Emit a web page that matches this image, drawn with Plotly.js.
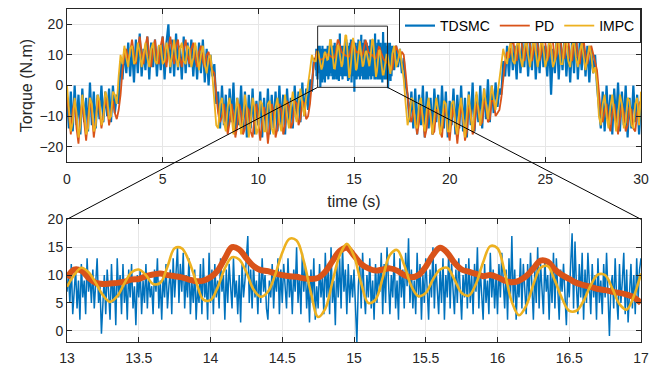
<!DOCTYPE html>
<html>
<head>
<meta charset="utf-8">
<script src="https://cdn.plot.ly/plotly-3.0.1.min.js"></script>
<style>html,body{margin:0;padding:0;background:#fff;}#chart{width:650px;height:370px;}</style>
</head>
<body>
<div id="chart"></div>
<script>
// ---- Data ----
// Top panel, part 1: t = 0.0 .. 12.9 s, step 0.1 s
const tdsmcTop1 = [-4,-14,-2,-15,0,-13,-3,-16,-1,-12,-4,-15,1,-13,-2,-14,-3,-11,0,-12,-2,-10,-1,-12,0,-9,
 -3,-6,8,2,12,
 4,14,3,13,1,15,4,17,3,12,5,16,2,14,6,15,3,13,5,16,2,14,20,4,15,3,17,5,13,2,16,4,14,6,15,3,13,2,14,4,15,1,12,0,10,3,
 7,-6,-2,-14,
 0,-13,-3,-15,-1,-12,1,-16,-4,-13,0,-15,-2,-17,-3,-14,-1,-16,-5,-13,-2,-17,-4,-15,-1,-16,-3,-14,-2,-15,0,-13,-3,-16,-1,-12,-4,-14,0,-11,-2,-12,1,-10,-1,-8,
 2,-2,9];
const pdTop1 = [-3,-9,-16,-8,-5,-14,-19,-10,-5,-12,-18,-11,-4,-9,-17,-12,-4,-8,-14,-10,-4,-7,-13,-9,-5,-9,
 -11,-8,-3,5,10,
 12,8,11,15,10,7,12,16,11,7,13,16,10,6,12,15,9,7,13,16,10,6,12,16,11,7,13,15,9,6,12,15,10,7,12,14,9,6,11,13,8,6,10,11,7,5,
 4,-2,-9,-12,
 -10,-6,-11,-16,-12,-6,-10,-17,-13,-6,-9,-16,-14,-7,-8,-15,-17,-10,-6,-13,-18,-12,-7,-11,-19,-13,-6,-9,-17,-14,-6,-8,-16,-13,-5,-7,-14,-12,-5,-6,-13,-11,-5,-6,-11,-10,
 -6,1,7];
const impcTop1 = [0,-8,-15,-12,-4,-9,-17,-13,-3,-8,-16,-14,-4,-6,-15,-13,-3,-5,-13,-11,-2,-4,-11,-10,-2,-3,
 -6,3,10,7,13,
 9,6,12,13,7,8,14,11,6,10,14,9,6,12,14,8,7,13,13,7,8,14,11,6,11,15,9,6,12,14,8,7,13,12,6,9,14,10,5,10,13,7,4,9,10,3,
 -5,-13,-14,-6,
 -4,-12,-15,-7,-4,-11,-16,-9,-4,-10,-16,-11,-3,-8,-17,-12,-4,-7,-16,-14,-5,-6,-15,-15,-6,-5,-14,-16,-7,-4,-12,-15,-8,-3,-10,-14,-7,-2,-8,-12,-6,-1,-6,-10,-4,0,
 5,10,8];

// Zoom window: t = 13.00 .. 17.00 s
// TDSMC, step 0.01 s
const tdsmcZoom = [
 7,10,5,12,3,8,11,4,9,2,
 12,6,9,3,13,7,10,5,11,4,
 9,13,5,8,-0.5,6,10,3,11,7,
 2,12,5,9,1,13,6,10,3,12,
 5,9,2,11,6,12,4,8,1,10,
 6,11,3,9,5,12,4,10,6,8,
 3,11,7,13,4,9,2,10,6,12,
 4,8,11,3,13,6,10,15,5,12,
 7,14,4,10,6,13,3,9,5,11,
 2,8,5,12,3,13,6,9,2,14,
 5,11,3,12,6,9,4,13,7,10,
 2,11,5,12,8,4,13,6,9,3,
 10,1.5,12,6,9,13,17,5,11,4,
 12,6,9,3,11,5,13,7,10,4,
 2,9,6,12,4,10,7,13,3,11,
 5,12,8,4,13,6,10,3,11,7,
 15,5,10,3,14,7,12,4,9,1.5,
 11,5,13,2,8,4,12,6,10,3,
 14,6,11,3,15,5,9,1,12,6,
 13,4,15,7,11,3,12,5,10,6,
 11,5,-2,8,12,4,14,7,3,10,
 6,13,4,9,2,12,5,11,7,14,
 3,12,5,15,7,3,10,6,14,4,
 9,2,13,6,11,4,14,8,16.6,5,
 11,4,9,3,14,6,12,2,10,5,
 13,7,2,11,6,15,4,12,8,3,
 11,5,13,2,10,6,14,4,12,7,
 3,11,5,13,8,2,10,6,12,4,
 13,5,10,3,12,7,15,4,11,6,
 2,12,5,9,3,14,6,11,4,10,
 3,12,6,14,8,4,11,2,13,6,
 17,5,11,2,9,6,13,4,12,7,
 3,12,6,14,9,2,11,5,15,4,
 12,6,3,13,7,10,2,11,5,14,
 4,13,6,2,11,7,12,5,1,10,
 6,12,17.5,4,16,8,3,12,6,14,
 2,11,5,14,7,3,12,6,10,2,
 13,5,9,3,12,6,14,4,-0.9,8,
 10,4,13,6,2,12,5,9,14,3,
 11,1.5,7,12,4,10,3,13,6,11,
 13];
// PD, step 0.05 s
const pdZoom = [9.5,11,10.8,9.5,8.6,8.4,8.5,8.6,8.8,9.2,
 9.3,9.8,10.1,10.3,10.0,9.8,9.6,9.2,8.9,9.0,
 9.6,10.8,13.0,15.0,14.6,13.0,11.6,10.9,10.7,10.3,
 10.0,9.8,9.7,9.4,9.3,9.5,10.6,12.5,14.3,14.9,
 13.5,12.0,11.2,10.8,11.0,11.2,10.8,10.0,9.6,10.0,
 11.5,13.6,14.9,14.0,12.2,11.0,10.6,10.2,9.8,10.0,
 9.6,9.0,8.7,9.0,9.8,11.2,12.6,12.4,11.0,10.0,
 9.3,8.6,8.2,7.9,7.5,7.3,7.0,6.8,6.5,6.0,
 5.0];
// IMPC, step 0.05 s
const impcZoom = [7.9,10.0,11.3,10.5,8.6,6.4,5.2,6.2,8.5,10.5,
 11.0,10.0,8.4,8.6,11.5,14.8,14.8,12.5,8.8,5.6,
 5.5,7.8,11.2,13.2,12.8,10.5,7.4,6.1,7.0,10.0,
 14.0,16.5,16.2,12.5,6.8,2.5,4.0,8.8,13.5,15.6,
 13.4,8.5,5.0,5.6,9.5,13.6,14.5,11.8,8.0,6.2,
 6.8,9.2,11.0,11.3,9.2,6.8,6.3,8.4,12.3,15.2,
 14.8,10.5,5.2,2.8,4.5,8.3,11.3,11.6,9.0,5.8,
 3.6,3.6,5.4,8.2,10.1,10.0,7.6,4.8,3.8,6.2,
 10.3];

// Top panel, part 2: t = 17.1 .. 30.0 s, step 0.1 s
const tdsmcTop2 = [5,13,6,12,4,9,0,-3,-12,-2,
 -14,-1,-16,-3,-13,0,-17,-2,-14,-4,-16,-1,-12,-3,-15,0,-14,-2,-17,-5,-13,-1,-16,-3,-14,0,-15,-4,-17,-2,-13,1,-15,-3,-12,0,-14,-1,-11,2,-12,0,-9,1,-7,
 -1,-3,8,3,13,
 3,15,5,13,2,16,4,14,6,17,3,15,5,18,2,14,4,16,6,13,3,15,-3,12,4,17,2,14,5,16,3,13,1,15,4,18,2,14,5,15,3,13,1,12,4,10,
 0,-6,-14,-2,
 -15,0,-13,-3,-16,-1,-12,1,-15,-2,-13,0,-17,-4,-14,0,-12,-3,-16,-5];
const pdTop2 = [10,13,11,9,11,10,4,-4,-10,-12,
 -8,-11,-16,-12,-7,-10,-17,-14,-7,-9,-16,-15,-8,-8,-15,-17,-9,-7,-14,-18,-11,-7,-12,-19,-13,-6,-10,-18,-15,-7,-8,-16,-14,-6,-7,-13,-12,-5,-6,-12,-11,-5,-5,-10,-9,
 -8,-4,2,8,11,
 9,12,16,11,8,13,17,12,8,12,17,13,8,12,18,13,8,11,17,14,8,10,16,14,8,10,16,15,9,9,15,15,9,8,14,16,10,7,12,15,10,7,11,13,10,8,
 5,-2,-9,-12,
 -8,-6,-12,-15,-9,-6,-11,-16,-11,-6,-9,-15,-13,-7,-8,-14,-15,-9,-6,-5];
const impcTop2 = [13,6,8,12,7,2,-6,-13,-10,-4,
 -5,-13,-14,-6,-4,-12,-15,-8,-4,-10,-16,-10,-4,-8,-16,-13,-5,-6,-15,-15,-6,-5,-13,-16,-8,-4,-12,-17,-9,-3,-10,-15,-8,-2,-8,-13,-7,-1,-6,-11,-6,0,-4,-8,-3,
 2,6,12,9,7,
 12,14,8,7,13,15,9,6,12,15,10,6,11,16,11,6,10,16,12,6,9,15,13,6,8,15,14,7,7,14,15,8,6,13,15,9,6,11,14,10,5,9,13,10,4,6,
 1,-10,-13,-6,
 -3,-10,-14,-7,-3,-9,-15,-10,-3,-6,-14,-12,-4,-5,-13,-14,-6,-4,-13,-2];

const seriesNames = ['TDSMC', 'PD', 'IMPC'];
const xTicksTop = [0, 5, 10, 15, 20, 25, 30];
const yTicksTop = [-20, -10, 0, 10, 20];
const xTicksZoom = [13, 13.5, 14, 14.5, 15, 15.5, 16, 16.5, 17];
const yTicksZoom = [0, 5, 10, 15, 20];
// zoom rectangle drawn on the top panel (data units)
const zoomBox = {t0: 13.1, t1: 16.75, v0: -0.6, v1: 19.4};

// ---- Build time grids ----
function grid(start, step, n) { const a = []; for (let i = 0; i < n; i++) a.push(+(start + i * step).toFixed(4)); return a; }
const tTop1 = grid(0, 0.1, tdsmcTop1.length);
const tTop2 = grid(17.1, 0.1, tdsmcTop2.length);
const tZoomFine = grid(13, 0.01, tdsmcZoom.length);
const tZoom = grid(13, 0.05, pdZoom.length);
const tTop1p = grid(0, 0.1, pdTop1.length), tTop1i = grid(0, 0.1, impcTop1.length);
const tTop2p = grid(17.1, 0.1, pdTop2.length), tTop2i = grid(17.1, 0.1, impcTop2.length);

const colors = ['#0072BD', '#D95319', '#EDB120'];
const FONT = 'Liberation Sans, Arial, Helvetica, sans-serif';

const traces = [
  {x: [...tTop1, ...tZoomFine, ...tTop2], y: [...tdsmcTop1, ...tdsmcZoom, ...tdsmcTop2], name: seriesNames[0],
   type: 'scatter', mode: 'lines', line: {color: colors[0], width: 2.2}, xaxis: 'x', yaxis: 'y'},
  {x: [...tTop1p, ...tZoom, ...tTop2p], y: [...pdTop1, ...pdZoom, ...pdTop2], name: seriesNames[1],
   type: 'scatter', mode: 'lines', line: {color: colors[1], width: 1.8}, xaxis: 'x', yaxis: 'y'},
  {x: [...tTop1i, ...tZoom, ...tTop2i], y: [...impcTop1, ...impcZoom, ...impcTop2], name: seriesNames[2],
   type: 'scatter', mode: 'lines', line: {color: colors[2], width: 1.8}, xaxis: 'x', yaxis: 'y'},
  {x: tZoomFine, y: tdsmcZoom, name: seriesNames[0], showlegend: false,
   type: 'scatter', mode: 'lines', line: {color: colors[0], width: 1.5}, xaxis: 'x2', yaxis: 'y2'},
  {x: tZoom, y: pdZoom, name: seriesNames[1], showlegend: false,
   type: 'scatter', mode: 'lines', line: {color: colors[1], width: 6, shape: 'spline'}, xaxis: 'x2', yaxis: 'y2'},
  {x: tZoom, y: impcZoom, name: seriesNames[2], showlegend: false,
   type: 'scatter', mode: 'lines', line: {color: colors[2], width: 2.6, shape: 'spline'}, xaxis: 'x2', yaxis: 'y2'}
];

const domTop = [0.5405, 1], domBot = [0, 0.3685];
const xRangeTop = [0, 30], yRangeTop = [-25, 25];
function px(t) { return (t - xRangeTop[0]) / (xRangeTop[1] - xRangeTop[0]); }
function py(v) { return domTop[0] + (v - yRangeTop[0]) / (yRangeTop[1] - yRangeTop[0]) * (domTop[1] - domTop[0]); }

const axCommon = {
  showline: true, linecolor: '#262626', linewidth: 1, mirror: 'ticks',
  ticks: 'inside', ticklen: 5, tickcolor: '#262626', tickwidth: 1,
  showgrid: true, gridcolor: '#e6e6e6', gridwidth: 1, zeroline: false,
  tickfont: {family: FONT, size: 14, color: '#262626'}, fixedrange: true
};

const layout = {
  width: 650, height: 370,
  margin: {l: 67, r: 9, t: 9, b: 28},
  paper_bgcolor: '#fff', plot_bgcolor: '#fff',
  font: {family: FONT, color: '#262626'},
  showlegend: true,
  legend: {orientation: 'h', x: 1, xanchor: 'right', y: 1, yanchor: 'top',
    bgcolor: '#fff', bordercolor: '#262626', borderwidth: 1,
    font: {family: FONT, size: 14, color: '#000'}, itemwidth: 30, tracegroupgap: 0},
  xaxis: Object.assign({}, axCommon, {domain: [0, 1], anchor: 'y', range: xRangeTop, tickvals: xTicksTop,
    ticklabelstandoff: 4,
    title: {text: 'time (s)', font: {family: FONT, size: 16, color: '#262626'}, standoff: 9}}),
  yaxis: Object.assign({}, axCommon, {domain: domTop, anchor: 'x', range: yRangeTop, tickvals: yTicksTop,
    title: {text: 'Torque (N.m)', font: {family: FONT, size: 16, color: '#262626'}, standoff: 2}}),
  xaxis2: Object.assign({}, axCommon, {domain: [0, 1], anchor: 'y2', range: [13, 17], tickvals: xTicksZoom,
    ticklabelstandoff: 3}),
  yaxis2: Object.assign({}, axCommon, {domain: domBot, anchor: 'x2', range: [-2, 20], tickvals: yTicksZoom}),
  shapes: [
    {type: 'rect', xref: 'x', yref: 'y', x0: zoomBox.t0, x1: zoomBox.t1, y0: zoomBox.v0, y1: zoomBox.v1,
     line: {color: '#262626', width: 1}, layer: 'above'},
    {type: 'line', xref: 'paper', yref: 'paper', x0: px(zoomBox.t0), y0: py(zoomBox.v0), x1: 0, y1: domBot[1],
     line: {color: '#000', width: 1}, layer: 'above'},
    {type: 'line', xref: 'paper', yref: 'paper', x0: px(zoomBox.t1), y0: py(zoomBox.v0), x1: 1, y1: domBot[1],
     line: {color: '#000', width: 1}, layer: 'above'}
  ]
};

Plotly.newPlot('chart', traces, layout, {staticPlot: true, displayModeBar: false});
</script>
</body>
</html>
